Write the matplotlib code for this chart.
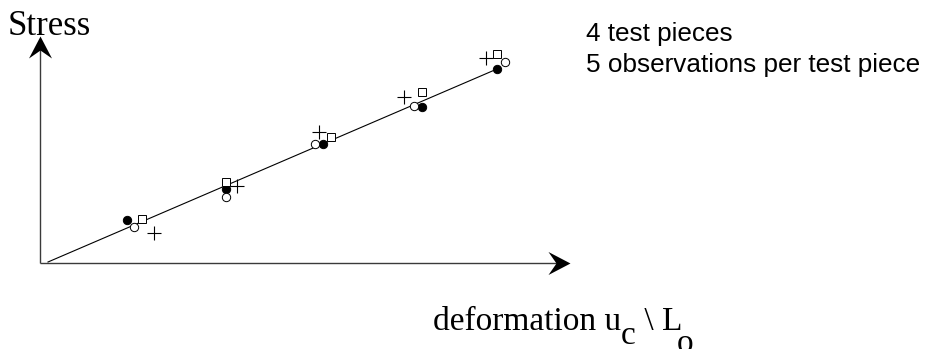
import numpy as np
import matplotlib
matplotlib.use("Agg")
import matplotlib.pyplot as plt
from matplotlib.path import Path

# Schematic stress / deformation diagram: four test pieces, five load levels.
# Units are arbitrary (diagram units measured from the origin of the axes).

deform_filled = [87, 186, 283, 382, 457]
stress_filled = [43, 74, 119, 156, 194]

deform_open = [94, 186, 275, 374, 465]
stress_open = [36, 66, 119, 157, 201]

deform_square = [102, 186, 291, 382, 457]
stress_square = [44, 81, 126, 171, 209]

deform_plus = [114, 197, 279, 364, 446]
stress_plus = [30, 77, 131, 166, 205]

# Fitted straight line through the observations
fit_deform = [8, 457]
fit_stress = [1, 194]

# Extent of the drawn axes (arrow tips)
x_axis_end = 530
y_axis_end = 227

W, H, DPI = 928, 349, 100
fig = plt.figure(figsize=(W / DPI, H / DPI), dpi=DPI)
ax = fig.add_axes([0, 0, 1, 1])
ax.set_xlim(-40, W - 40)
ax.set_ylim(-(H - 263), 263)
ax.axis("off")

# Axes drawn as arrows
axis_color = "#3a3a3a"
ax.plot([0, x_axis_end - 12], [0, 0], color=axis_color, lw=1.0, solid_capstyle="butt")
ax.plot([0, 0], [0, y_axis_end - 12], color=axis_color, lw=1.0, solid_capstyle="butt")

head_right = Path([(0, 0), (-22, 11.5), (-14, 0), (-22, -11.5), (0, 0)],
                  [Path.MOVETO, Path.LINETO, Path.LINETO, Path.LINETO, Path.CLOSEPOLY])
head_up = Path([(0, 0), (-11.5, -22), (0, -14), (11.5, -22), (0, 0)],
               [Path.MOVETO, Path.LINETO, Path.LINETO, Path.LINETO, Path.CLOSEPOLY])
head_size = 44 * 72 / DPI
ax.plot([x_axis_end], [0], marker=head_right, markersize=head_size,
        color="black", markeredgewidth=0, linestyle="none")
ax.plot([0], [y_axis_end], marker=head_up, markersize=head_size,
        color="black", markeredgewidth=0, linestyle="none")

# Fit line
ax.plot(fit_deform, fit_stress, color="black", lw=0.8)

# Observations
ax.plot(deform_filled, stress_filled, linestyle="none", marker="o",
        markersize=6.0, markerfacecolor="black", markeredgecolor="black",
        markeredgewidth=0.7)
ax.plot(deform_open, stress_open, linestyle="none", marker="o",
        markersize=6.0, markerfacecolor="white", markeredgecolor="black",
        markeredgewidth=0.7)
ax.plot(deform_square, stress_square, linestyle="none", marker="s",
        markersize=5.8, markerfacecolor="white", markeredgecolor="black",
        markeredgewidth=0.7)
ax.plot(deform_plus, stress_plus, linestyle="none", marker="+",
        markersize=10, color="black", markeredgewidth=0.8)


def fig_xy(px, py):
    return px / W, 1 - py / H


serif = "Liberation Serif"
sans = "Liberation Sans"

fig.text(*fig_xy(8, 35), "Stress", family=serif, fontsize=25,
         ha="left", va="baseline")

fig.text(*fig_xy(586, 41), "4 test pieces", family=sans, fontsize=18.8,
         ha="left", va="baseline")
fig.text(*fig_xy(586, 72), "5 observations per test piece", family=sans,
         fontsize=18.8, ha="left", va="baseline")

# x-axis label with lowered subscripts, placed piece by piece
renderer = fig.canvas.get_renderer()
base_y = 330
pieces = [("deformation u", base_y, 0), ("c", 344, 0), (" \\ ", base_y, 0),
          ("L", base_y, 0), ("o", 352, -6)]
x_px = 433
for text, y_px, dx in pieces:
    t = fig.text(*fig_xy(x_px + dx, y_px), text, family=serif, fontsize=24,
                 ha="left", va="baseline")
    bb = t.get_window_extent(renderer)
    x_px = x_px + dx + bb.width

fig.savefig("out.png", dpi=DPI)
